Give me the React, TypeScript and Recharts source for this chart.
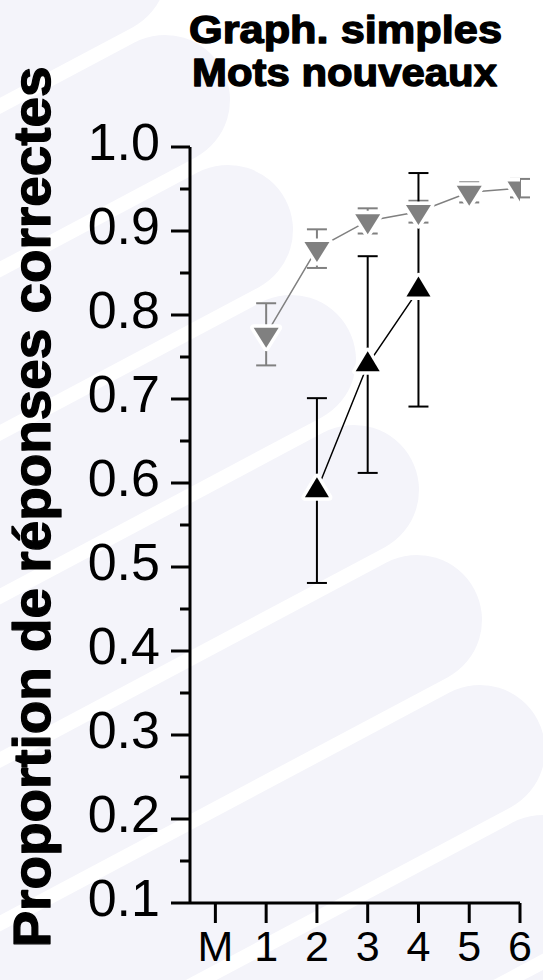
import React from 'react'
import { LineChart, Line, XAxis, YAxis, ErrorBar } from 'recharts'

// sessions (M = 0, no data)
const xTicks = [0, 1, 2, 3, 4, 5, 6]
const xLabels = ['M', '1', '2', '3', '4', '5', '6']

const yMajor = [0.1, 0.2, 0.3, 0.4, 0.5, 0.6, 0.7, 0.8, 0.9, 1.0]
const yMinor = [0.15, 0.25, 0.35, 0.45, 0.55, 0.65, 0.75, 0.85, 0.95]

// grey series (down triangles)
const graySessions = [1, 2, 3, 4, 5, 6]
const grayMean = [0.777, 0.879, 0.912, 0.923, 0.946, 0.951]
const grayErr = [0.037, 0.023, 0.015, 0.013, 0.012, 0.011]

// black series (up triangles)
const blackSessions = [2, 3, 4]
const blackMean = [0.591, 0.741, 0.83]
const blackErr = [0.11, 0.129, 0.139]

const grayData = graySessions.map((x, i) => ({ x, y: grayMean[i], err: grayErr[i] }))
const blackData = blackSessions.map((x, i) => ({ x, y: blackMean[i], err: blackErr[i] }))

const FONT = '"Liberation Sans", Arial, Helvetica, sans-serif'
const GRAY = '#808080'

const DownTri = (props: any) => {
  const { cx, cy } = props
  if (cx == null || cy == null) return null
  const w = 12.5
  const h = 20
  const pts = `${cx - w},${cy - h / 3} ${cx + w},${cy - h / 3} ${cx},${cy + (2 * h) / 3}`
  return <polygon points={pts} fill={GRAY} stroke="#fff" strokeWidth={7} strokeLinejoin="round" paintOrder="stroke" />
}

const UpTri = (props: any) => {
  const { cx, cy } = props
  if (cx == null || cy == null) return null
  const w = 12
  const h = 20
  const pts = `${cx - w},${cy + h / 3} ${cx + w},${cy + h / 3} ${cx},${cy - (2 * h) / 3}`
  return <polygon points={pts} fill="#000" stroke="#fff" strokeWidth={7} strokeLinejoin="round" paintOrder="stroke" />
}

const YTick = (props: any) => {
  const { x, y, payload } = props
  const v = payload.value
  const major = yMajor.some((m) => Math.abs(m - v) < 1e-6)
  return (
    <g>
      <line x1={x - (major ? 19 : 10)} x2={x} y1={y} y2={y} stroke="#000" strokeWidth={3} />
      {major && (
        <text x={x - 30} y={y + 13} textAnchor="end" fontSize={52} fontFamily={FONT} fill="#000">
          {v.toFixed(1)}
        </text>
      )}
    </g>
  )
}

// watermark: centres of the rounded right ends of the faint bands
const bands = [
  { cx: 102, cy: -30 },
  { cx: 165, cy: 100 },
  { cx: 228, cy: 230 },
  { cx: 291, cy: 360 },
  { cx: 354, cy: 490 },
  { cx: 417, cy: 620 },
  { cx: 480, cy: 750 },
  { cx: 543, cy: 880 },
  { cx: 606, cy: 1010 },
]

const App: React.FC = () => {
  return (
    <div style={{ position: 'absolute', left: 0, top: 0, width: 543, height: 980, background: '#fff', overflow: 'hidden' }}>
      <div style={{ position: 'absolute', inset: 0 }}>
        {bands.map((b, i) => (
          <div
            key={i}
            style={{
              position: 'absolute',
              left: b.cx - 935,
              top: b.cy - 65,
              width: 1000,
              height: 130,
              borderRadius: 65,
              background: '#f4f4fa',
              transformOrigin: '935px 65px',
              transform: 'rotate(-28deg)',
            }}
          />
        ))}
      </div>
      <div style={{ position: 'absolute', left: 0, top: 0 }}>
        <LineChart width={543} height={980} margin={{ top: 147, right: 23, bottom: 0, left: 0 }}>
          <XAxis
            type="number"
            dataKey="x"
            domain={[-0.5, 6]}
            ticks={xTicks}
            interval={0}
            allowDataOverflow
            height={77}
            axisLine={{ stroke: '#000', strokeWidth: 3 }}
            tickLine={{ stroke: '#000', strokeWidth: 3 }}
            tickSize={20}
            tickMargin={7}
            tick={{ fontSize: 43, fill: '#000', fontFamily: FONT }}
            tickFormatter={(v: number) => xLabels[xTicks.indexOf(v)]}
          />
          <YAxis
            type="number"
            domain={[0.1, 1]}
            ticks={[...yMajor, ...yMinor].sort((a, b) => a - b)}
            interval={0}
            allowDataOverflow
            width={190}
            axisLine={{ stroke: '#000', strokeWidth: 3 }}
            tickLine={false}
            tickSize={0}
            tickMargin={0}
            tick={<YTick />}
          />
          <Line
            data={grayData}
            dataKey="y"
            type="linear"
            stroke={GRAY}
            strokeWidth={1.5}
            dot={<DownTri />}
            activeDot={false}
            isAnimationActive={false}
          >
            <ErrorBar dataKey="err" direction="y" stroke={GRAY} strokeWidth={2} width={10} isAnimationActive={false} />
          </Line>
          <Line
            data={blackData}
            dataKey="y"
            type="linear"
            stroke="#000"
            strokeWidth={1.5}
            dot={<UpTri />}
            activeDot={false}
            isAnimationActive={false}
          >
            <ErrorBar dataKey="err" direction="y" stroke="#000" strokeWidth={2} width={10} isAnimationActive={false} />
          </Line>
        </LineChart>
      </div>
      <svg width={543} height={980} style={{ position: 'absolute', left: 0, top: 0, pointerEvents: 'none' }}>
        <g fontFamily={FONT} fontWeight="bold" fill="#000" stroke="#000" strokeWidth={1.3} strokeLinejoin="round">
          <text x={189} y={43} fontSize={38} textLength={313} lengthAdjust="spacingAndGlyphs">
            Graph. simples
          </text>
          <text x={192} y={86} fontSize={38} textLength={305} lengthAdjust="spacingAndGlyphs">
            Mots nouveaux
          </text>
          <text
            x={50}
            y={507}
            transform="rotate(-90 50 507)"
            textAnchor="middle"
            fontSize={51}
            textLength={881}
            lengthAdjust="spacingAndGlyphs"
          >
            Proportion de réponses correctes
          </text>
        </g>
      </svg>
    </div>
  )
}

export default App
